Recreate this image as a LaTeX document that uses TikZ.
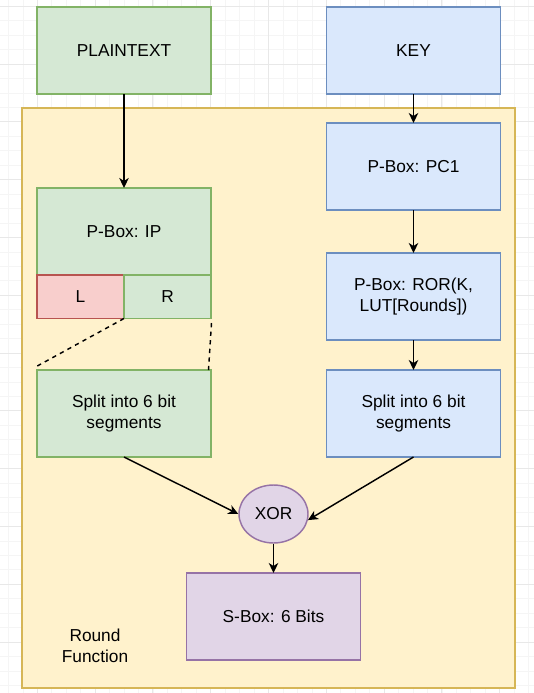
\documentclass[tikz,border=0pt]{standalone}
\usepackage{fontspec}
\setmainfont{Liberation Sans}
\usepackage{xcolor}
\usetikzlibrary{arrows.meta}
\usetikzlibrary{shapes}

\definecolor{greenfill}{HTML}{D5E8D4}
\definecolor{greenline}{HTML}{82B366}
\definecolor{bluefill}{HTML}{DAE8FC}
\definecolor{blueline}{HTML}{6C8EBF}
\definecolor{redfill}{HTML}{F8CECC}
\definecolor{redline}{HTML}{B85450}
\definecolor{roundfill}{HTML}{FFF2CC}
\definecolor{roundline}{HTML}{D6B656}
\definecolor{purplefill}{HTML}{E1D5E7}
\definecolor{purpleline}{HTML}{9673A6}

\tikzset{
  box/.style={rectangle, draw, line width=1.45pt, minimum width=174pt, minimum height=87pt,
    inner sep=0pt, outer sep=0pt, align=center, font=\fontsize{17.3}{20.8}\selectfont},
  halfbox/.style={box, minimum width=87pt, minimum height=43.5pt},
  greenbox/.style={fill=greenfill, draw=greenline},
  bluebox/.style={fill=bluefill, draw=blueline},
  redbox/.style={fill=redfill, draw=redline},
  arrow/.style={line width=1.45pt, -{Stealth[length=10pt,width=9.5pt,inset=3pt]}},
  dashline/.style={line width=1.45pt, dash pattern=on 4.3pt off 4.3pt},
  gridminor/.style={draw=black!4, line width=0.7pt},
  gridmajor/.style={draw=black!9, line width=0.7pt}
}

\begin{document}
\begin{tikzpicture}[x=1pt,y=-1pt]
	\useasboundingbox (0,0) rectangle (534,693);
	% draw background grid
	\foreach \i in {0,...,36}
	\draw[gridminor] ({8.4+14.45*\i},0) -- ({8.4+14.45*\i},693);
	\foreach \i in {0,...,47}
	\draw[gridminor] (0,{6.2+14.45*\i}) -- (534,{6.2+14.45*\i});
	\foreach \i in {0,...,8}
	\draw[gridmajor] ({37.1+57.8*\i},0) -- ({37.1+57.8*\i},693);
	\foreach \i in {0,...,11}
	\draw[gridmajor] (0,{6.2+57.8*\i}) -- (534,{6.2+57.8*\i});
	
	% draw round function frame
	\draw[fill=roundfill, draw=roundline, line width=1.45pt] (22,108) rectangle (515,688);
	\node[align=center, font=\fontsize{17.3}{20.8}\selectfont] (roundlabel) at (95,646) {Round\\Function};
	
	% draw nodes
	\node[box, greenbox] (plain) at (124,50.5) {PLAINTEXT};
	\node[box, bluebox] (key) at (413.5,50.5) {KEY};
	\node[box, greenbox] (ip) at (124,231.5) {P-Box: IP};
	\node[halfbox, redbox] (left) at (80.5,296.75) {L};
	\node[halfbox, greenbox] (right) at (167.5,296.75) {R};
	\node[box, bluebox] (pc1) at (413.5,166.5) {P-Box: PC1};
	\node[box, bluebox] (ror) at (413.5,296.5) {P-Box: ROR(K,\\LUT[Rounds])};
	\node[box, greenbox] (splitl) at (124,413.5) {Split into 6 bit\\segments};
	\node[box, bluebox] (splitr) at (413.5,413.5) {Split into 6 bit\\segments};
	\node[ellipse, draw=purpleline, fill=purplefill, line width=1.45pt, minimum width=69pt,
	  minimum height=58pt, inner sep=0pt, font=\fontsize{17.3}{20.8}\selectfont] (xor) at (273.5,514) {XOR};
	\node[box, fill=purplefill, draw=purpleline] (sbox) at (273.5,616.5) {S-Box: 6 Bits};
	
	% draw dashed split lines
	\coordinate (dashtopr) at (211.5,323);
	\coordinate (dashbotl) at (37.3,366);
	\coordinate (dashbotr) at (208.5,370);
	\draw[dashline] (right.south west) -- (dashbotl);
	\draw[dashline] (dashtopr) -- (dashbotr);
	
	% draw arrows
	\draw[arrow] (plain.south) -- (ip.north);
	\draw[arrow] (key.south) -- (pc1.north);
	\draw[arrow] (pc1.south) -- (ror.north);
	\draw[arrow] (ror.south) -- (splitr.north);
	\draw[arrow] (splitl.south) -- (xor.west);
	\draw[arrow] (splitr.south) -- (xor.-10);
	\draw[arrow] (xor.south) -- (sbox.north);
\end{tikzpicture}
\end{document}
